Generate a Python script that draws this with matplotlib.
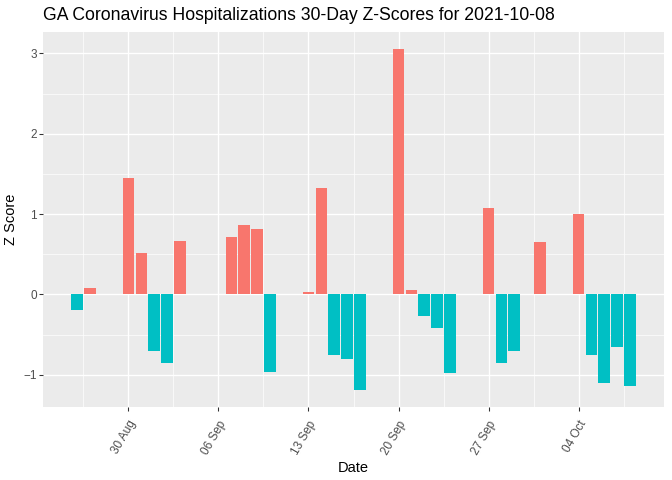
import numpy as np
import pandas as pd
import matplotlib
matplotlib.use("Agg")
import matplotlib.pyplot as plt
import matplotlib.dates as mdates
from matplotlib.ticker import MultipleLocator

plt.rcParams['font.family'] = ['Liberation Sans', 'DejaVu Sans']

# daily z-scores (weekends and Sep 30 missing)
dates = pd.to_datetime([
    "2021-08-26", "2021-08-27", "2021-08-30", "2021-08-31", "2021-09-01",
    "2021-09-02", "2021-09-03", "2021-09-07", "2021-09-08", "2021-09-09",
    "2021-09-10", "2021-09-13", "2021-09-14", "2021-09-15", "2021-09-16",
    "2021-09-17", "2021-09-20", "2021-09-21", "2021-09-22", "2021-09-23",
    "2021-09-24", "2021-09-27", "2021-09-28", "2021-09-29", "2021-10-01",
    "2021-10-04", "2021-10-05", "2021-10-06", "2021-10-07", "2021-10-08",
])
zscores = [
    -0.19, 0.075, 1.45, 0.52, -0.70,
    -0.86, 0.67, 0.71, 0.87, 0.81,
    -0.97, 0.025, 1.32, -0.76, -0.80,
    -1.19, 3.055, 0.05, -0.27, -0.42,
    -0.98, 1.08, -0.86, -0.71, 0.65,
    1.00, -0.75, -1.10, -0.65, -1.14,
]
week_ticks = pd.to_datetime(["2021-08-30", "2021-09-06", "2021-09-13",
                             "2021-09-20", "2021-09-27", "2021-10-04"])
title = "GA Coronavirus Hospitalizations 30-Day Z-Scores for 2021-10-08"

x = mdates.date2num(dates)
z = np.array(zscores)
colors = np.where(z > 0, "#F8766D", "#00BFC4")

fig = plt.figure(figsize=(7, 5), dpi=96)
ax = fig.add_axes([43 / 672, 1 - 407 / 480, 621 / 672, 375 / 480])
ax.set_facecolor("#EBEBEB")
ax.bar(x, z, width=0.9, color=colors, zorder=3)

# ggplot-style 5% expansion
lo, hi = x.min() - 0.45, x.max() + 0.45
pad = 0.05 * (hi - lo)
ax.set_xlim(lo - pad, hi + pad)
ylo, yhi = min(z.min(), 0), max(z.max(), 0)
ypad = 0.05 * (yhi - ylo)
ax.set_ylim(ylo - ypad, yhi + ypad)

tick_nums = mdates.date2num(week_ticks)
ax.set_xticks(tick_nums)
ax.set_xticklabels([d.strftime("%d %b") for d in week_ticks])
ax.set_xticks(np.concatenate([tick_nums - 3.5, [tick_nums[-1] + 3.5]]), minor=True)
ax.yaxis.set_major_locator(MultipleLocator(1))
ax.yaxis.set_minor_locator(MultipleLocator(0.5))

ax.grid(which="major", color="white", linewidth=1.0, zorder=0)
ax.grid(which="minor", color="white", linewidth=0.5, zorder=0)
ax.set_axisbelow(True)
for s in ax.spines.values():
    s.set_visible(False)

ax.tick_params(which="major", length=2.75, width=0.8, color="#333333",
               labelcolor="#4D4D4D", labelsize=8.8, pad=2)
ax.tick_params(axis="x", which="major", pad=6)
ax.tick_params(which="minor", length=0)
for lab in ax.get_xticklabels():
    lab.set_rotation(60)
    lab.set_ha("right")
    lab.set_va("top")
    lab.set_rotation_mode("anchor")

ax.set_xlabel("Date", fontsize=11, color="black", labelpad=3)
ax.set_ylabel("Z Score", fontsize=11, color="black", labelpad=4)
fig.text(43 / 672, 1 - 15 / 480, title, fontsize=13.2, ha="left", va="center")

fig.savefig("out.png", dpi=96)
